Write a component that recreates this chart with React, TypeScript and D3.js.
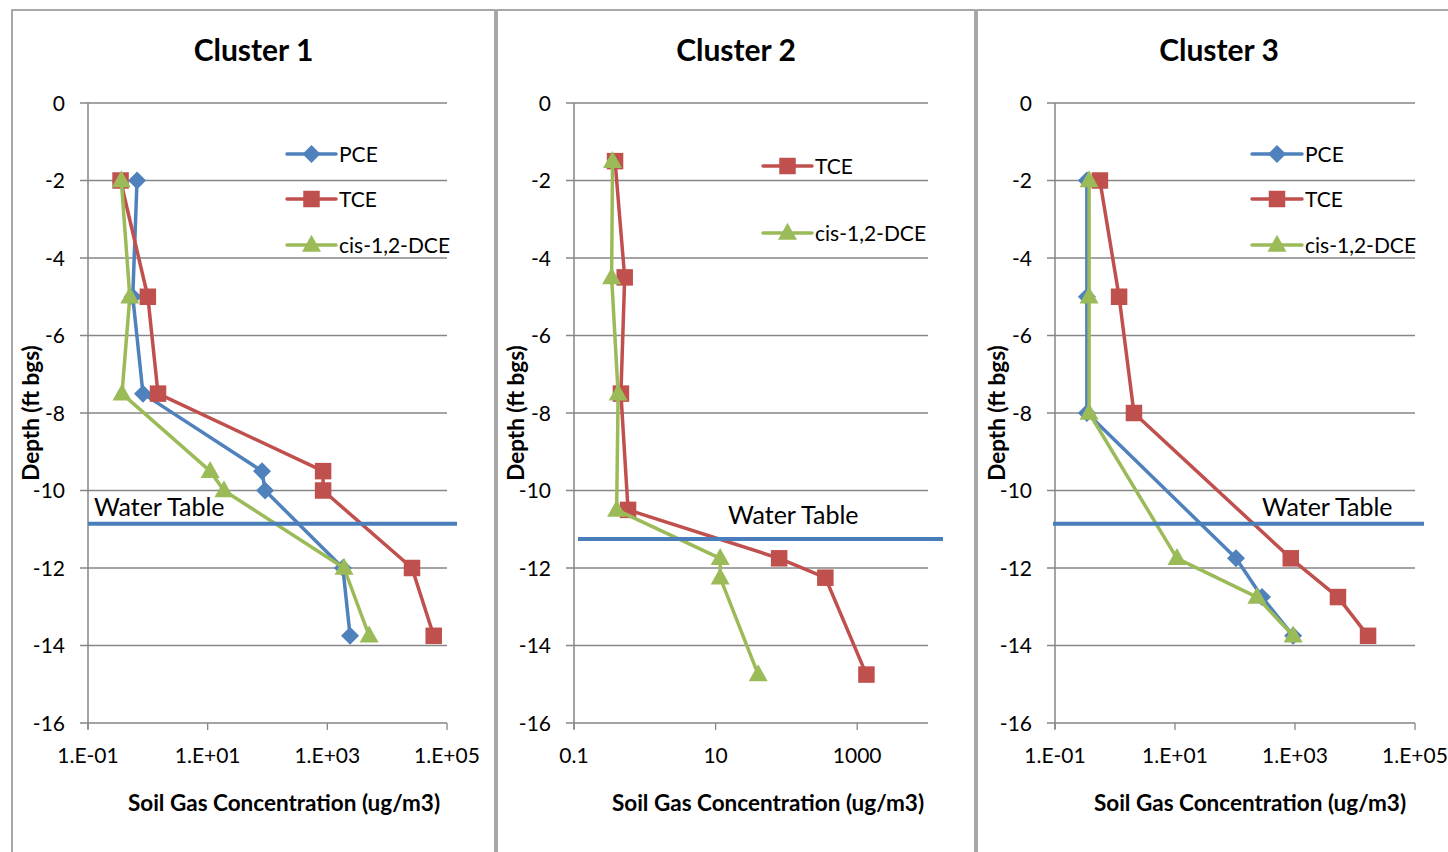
import React from 'react';
import * as d3 from 'd3';

// ---------- DATA ----------
const c1Depth = [-2, -5, -7.5, -9.5, -10, -12, -13.75];
const c1PCE = [0.66, 0.56, 0.83, 81, 91, 1820, 2400];
const c1TCE = [0.35, 1.0, 1.48, 850, 850, 26000, 60000];
const c1DCE = [0.36, 0.5, 0.37, 11, 18.7, 1900, 5000];

const c2Depth = [-1.5, -4.5, -7.5, -10.5, -11.75, -12.25, -14.75];
const c2TCE = [0.38, 0.52, 0.46, 0.58, 79, 355, 1350];
const c2DCE = [0.35, 0.34, 0.42, 0.4, 11.6, 11.6, 40];

const c3Depth = [-2, -5, -8, -11.75, -12.75, -13.75];
const c3PCE = [0.34, 0.34, 0.34, 104, 282, 930];
const c3TCE = [0.56, 1.17, 2.07, 850, 5200, 16500];
const c3DCE = [0.37, 0.37, 0.37, 10.8, 232, 930];

const depthTicks = [0, -2, -4, -6, -8, -10, -12, -14, -16];
const sciTicks = [0.1, 10, 1000, 100000];
const sciLabels = ['1.E-01', '1.E+01', '1.E+03', '1.E+05'];
const plainTicks = [0.1, 10, 1000];
const plainLabels = ['0.1', '10', '1000'];
const waterTables = [-10.86, -11.25, -10.86];
const titles = ['Cluster 1', 'Cluster 2', 'Cluster 3'];

const COLORS = { PCE: '#4F81BD', TCE: '#C0504D', DCE: '#9BBB59' };
const FONT = 'Lato, "Open Sans", sans-serif';

type Series = { name: string; key: 'PCE' | 'TCE' | 'DCE'; values: number[] };

const panels = [
  {
    title: titles[0], border: [12, 495], plot: [88, 447], domain: [0.1, 1e5],
    ticks: sciTicks, labels: sciLabels, depth: c1Depth,
    series: [
      { name: 'PCE', key: 'PCE', values: c1PCE },
      { name: 'TCE', key: 'TCE', values: c1TCE },
      { name: 'cis-1,2-DCE', key: 'DCE', values: c1DCE },
    ] as Series[],
    water: waterTables[0], waterX: [88, 457], waterLabelX: 94, waterLabelY: 516,
    legendX: [287, 336], legendY: [154, 199, 245], xTitleX: 284, yTitleX: 32,
  },
  {
    title: titles[1], border: [497, 975], plot: [574, 928], domain: [0.1, 1e4],
    ticks: plainTicks, labels: plainLabels, depth: c2Depth,
    series: [
      { name: 'TCE', key: 'TCE', values: c2TCE },
      { name: 'cis-1,2-DCE', key: 'DCE', values: c2DCE },
    ] as Series[],
    water: waterTables[1], waterX: [578, 943], waterLabelX: 728, waterLabelY: 524,
    legendX: [763, 812], legendY: [166, 233], xTitleX: 768, yTitleX: 517,
  },
  {
    title: titles[2], border: [977, 1461], plot: [1055, 1415], domain: [0.1, 1e5],
    ticks: sciTicks, labels: sciLabels, depth: c3Depth,
    series: [
      { name: 'PCE', key: 'PCE', values: c3PCE },
      { name: 'TCE', key: 'TCE', values: c3TCE },
      { name: 'cis-1,2-DCE', key: 'DCE', values: c3DCE },
    ] as Series[],
    water: waterTables[2], waterX: [1053, 1424], waterLabelX: 1262, waterLabelY: 516,
    legendX: [1252, 1302], legendY: [154, 199, 245], xTitleX: 1250, yTitleX: 998,
  },
];

const TOP = 103;
const BOTTOM = 723;

function Marker({ kind, x, y }: { kind: string; x: number; y: number }) {
  const c = (COLORS as any)[kind];
  if (kind === 'PCE') {
    const r = 9;
    return <path d={`M${x},${y - r}L${x + r},${y}L${x},${y + r}L${x - r},${y}Z`} fill={c} />;
  }
  if (kind === 'TCE') {
    const s = 16.5;
    return <rect x={x - s / 2} y={y - s / 2} width={s} height={s} fill={c} />;
  }
  const w = 19, h = 17;
  return <path d={`M${x},${y - h * 0.6}L${x + w / 2},${y + h * 0.4}L${x - w / 2},${y + h * 0.4}Z`} fill={c} />;
}

function Panel({ p }: { p: (typeof panels)[number] }) {
  const x = d3.scaleLog().domain(p.domain).range(p.plot);
  const y = d3.scaleLinear().domain([0, -16]).range([TOP, BOTTOM]);
  const line = d3.line<[number, number]>().x((d) => x(d[0])).y((d) => y(d[1]));
  const [bl, br] = p.border;
  const cx = (bl + br) / 2;
  const gridColor = '#868686';
  return (
    <g>
      <rect x={bl} y={10} width={br - bl} height={900} fill="#fff" stroke="#8c8c8c" strokeWidth={1.5} />
      <text x={cx} y={61} textAnchor="middle" fontFamily={FONT} fontWeight="bold" fontSize={30}>{p.title}</text>
      {depthTicks.map((t) => (
        <g key={t}>
          <line x1={p.plot[0] - 8} x2={p.plot[1]} y1={y(t)} y2={y(t)} stroke={gridColor} strokeWidth={1.3} />
          <text x={p.plot[0] - 23} y={y(t) + 7.5} textAnchor="end" fontFamily={FONT} fontSize={21}>{t}</text>
        </g>
      ))}
      <line x1={p.plot[0]} x2={p.plot[0]} y1={TOP} y2={BOTTOM + 6} stroke={gridColor} strokeWidth={1.5} />
      {p.ticks.map((t, i) => (
        <g key={i}>
          <line x1={x(t)} x2={x(t)} y1={BOTTOM} y2={BOTTOM + 7} stroke={gridColor} strokeWidth={1.3} />
          <text x={x(t)} y={763} textAnchor="middle" fontFamily={FONT} fontSize={21}>{p.labels[i]}</text>
        </g>
      ))}
      <text x={p.xTitleX} y={811} textAnchor="middle" fontFamily={FONT} fontWeight="bold" fontSize={22.5}>Soil Gas Concentration (ug/m3)</text>
      <text transform={`translate(${p.yTitleX + 7},${(TOP + BOTTOM) / 2}) rotate(-90)`} textAnchor="middle" fontFamily={FONT} fontWeight="bold" fontSize={22.5}>Depth (ft bgs)</text>
      {p.series.map((s) => {
        const pts = s.values.map((v, i) => [v, p.depth[i]] as [number, number]);
        return (
          <g key={s.key}>
            <path d={line(pts) || ''} fill="none" stroke={COLORS[s.key]} strokeWidth={3.5} strokeLinejoin="round" />
            {pts.map((d, i) => <Marker key={i} kind={s.key} x={x(d[0])} y={y(d[1])} />)}
          </g>
        );
      })}
      {/* water table */}
      <line x1={p.waterX[0]} x2={p.waterX[1]} y1={y(p.water) + 2.5} y2={y(p.water) + 2.5} stroke="#777" strokeOpacity={0.45} strokeWidth={4} filter="url(#blur)" />
      <line x1={p.waterX[0]} x2={p.waterX[1]} y1={y(p.water)} y2={y(p.water)} stroke="#4A7EBB" strokeWidth={4} />
      <text x={p.waterLabelX} y={p.waterLabelY} fontFamily={FONT} fontSize={25}>Water Table</text>
      {/* legend */}
      {p.series.map((s, i) => {
        const ly = p.legendY[i];
        return (
          <g key={'lg' + s.key}>
            <line x1={p.legendX[0]} x2={p.legendX[1]} y1={ly} y2={ly} stroke={COLORS[s.key]} strokeWidth={3.5} strokeLinecap="round" />
            <Marker kind={s.key} x={(p.legendX[0] + p.legendX[1]) / 2} y={ly} />
            <text x={p.legendX[1] + 3} y={ly + 7.5} fontFamily={FONT} fontSize={21}>{s.name}</text>
          </g>
        );
      })}
    </g>
  );
}

export default function App() {
  return (
    <svg width={1448} height={852} style={{ position: 'absolute', left: 0, top: 0, background: '#fff' }}>
      <defs>
        <filter id="blur" x="-5%" y="-200%" width="110%" height="500%">
          <feGaussianBlur stdDeviation="1.5" />
        </filter>
      </defs>
      <rect width={1448} height={852} fill="#fff" />
      {panels.map((p, i) => <Panel key={i} p={p} />)}
    </svg>
  );
}
